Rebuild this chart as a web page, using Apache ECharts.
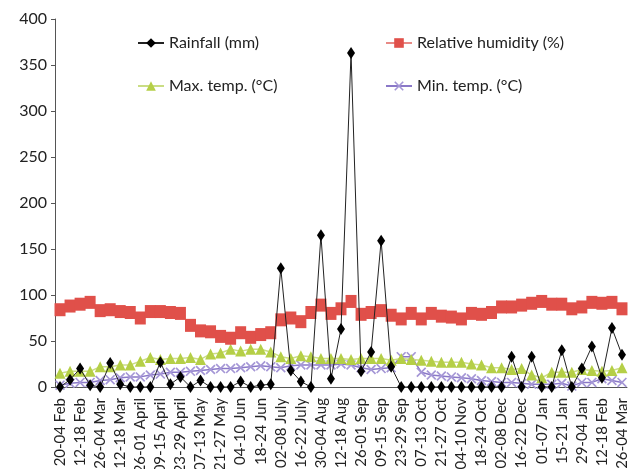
<!DOCTYPE html>
<html><head><meta charset="utf-8">
<script src="https://cdn.jsdelivr.net/npm/echarts@6/dist/echarts.min.js"></script>
<style>html,body{margin:0;padding:0;background:#fff}#c{width:636px;height:469px}</style>
</head><body><div id="c"></div>
<script>
const tickLabels = ['20-04 Feb','12-18 Feb','26-04 Mar','12-18 Mar','26-01 April','09-15 April','23-29 April','07-13 May','21-27 May','04-10 Jun','18-24 Jun','02-08 July','16-22 July','30-04 Aug','12-18 Aug','26-01 Sep','09-15 Sep','23-29 Sep','07-13 Oct','21-27 Oct','04-10 Nov','18-24 Oct','02-08 Dec','16-22 Dec','01-07 Jan','15-21 Jan','29-04 Jan','12-18 Feb','26-04 Mar'];
const rainfall = [0,8,20,2,0,26,3,0,0,0,27,3,11,0,7,0,0,0,6,0,2,3,129,18,6,0,165,9,63,363,17,38,159,22,0,0,0,0,0,0,0,0,0,0,0,33,0,33,0,0,40,0,20,44,10,64,35];
const humidity = [84,88,90,92,83,84,82,81,75,82,82,81,80,67,61,60,55,53,59,54,57,59,73,75,71,81,89,80,85,93,79,81,83,78,74,80,74,80,77,76,74,80,79,81,87,87,89,91,93,90,90,85,87,92,91,92,85];
const maxTemp = [15,17,17,17,22,22,24,24,28,32,30,31,31,32,30,36,37,41,39,41,41,38,33,31,34,33,31,31,31,30,31,31,31,29,31,30,29,28,27,27,27,25,24,21,21,19,20,13,10,16,16,16,19,18,17,18,21];
const minTemp = [2,4,5,5,7,8,10,11,11,13,14,16,16,17,18,19,20,20,21,22,23,22,21,23,24,24,24,24,25,24,21,19,20,21,33,33,16,13,12,11,10,9,7,6,5,5,4,3,3,3,4,1,5,5,9,7,5];

const categories = rainfall.map((_, i) => i % 2 === 0 ? tickLabels[i / 2] : '');
const FONT = 'Lato';
const xMark = 'path://M0,1.2L1.2,0L10,8.8L8.8,10Z M8.8,0L10,1.2L1.2,10L0,8.8Z';
const chart = echarts.init(document.getElementById('c'));
const legendText = {fontFamily: FONT, fontSize: 16, color: '#222'};
function lg(name, left, top) {
  return {data: [name], left: left, top: top, itemWidth: 26, itemHeight: 12, itemGap: 0, textStyle: legendText, padding: 0};
}
chart.setOption({
  animation: false,
  grid: {left: 55, right: 9, top: 19, bottom: 82, containLabel: false, outerBoundsMode: 'none'},
  legend: [lg('Rainfall (mm)', 137, 35), lg('Relative humidity (%)', 385, 35), lg('Max. temp. (°C)', 137, 78), lg('Min. temp. (°C)', 385, 78)],
  xAxis: {
    type: 'category', data: categories, boundaryGap: true,
    axisLine: {lineStyle: {color: '#555', width: 1}},
    axisTick: {interval: 0, length: 5, lineStyle: {color: '#555'}},
    axisLabel: {interval: 0, rotate: 90, margin: 11, fontFamily: FONT, fontSize: 15, color: '#222'}
  },
  yAxis: {
    type: 'value', min: 0, max: 400, interval: 50,
    splitLine: {show: false},
    axisLine: {show: true, lineStyle: {color: '#555', width: 1}},
    axisTick: {show: true, length: 4, lineStyle: {color: '#555'}},
    axisLabel: {fontFamily: FONT, fontSize: 16, color: '#222', margin: 8}
  },
  series: [
    {name: 'Rainfall (mm)', type: 'line', data: rainfall, symbol: 'diamond', symbolSize: [8, 12], z: 5,
      itemStyle: {color: '#000'}, lineStyle: {color: '#222', width: 1}},
    {name: 'Relative humidity (%)', type: 'line', data: humidity, symbol: 'rect', symbolSize: [11, 13], z: 4,
      itemStyle: {color: '#e0504a'}, lineStyle: {color: '#e88a86', width: 1}},
    {name: 'Max. temp. (°C)', type: 'line', data: maxTemp, symbol: 'triangle', symbolSize: [11, 11], z: 3,
      itemStyle: {color: '#b5cf47'}, lineStyle: {color: '#cadd84', width: 1.5}},
    {name: 'Min. temp. (°C)', type: 'line', data: minTemp, symbol: xMark, symbolSize: 10, z: 2,
      itemStyle: {color: '#a597d6'}, lineStyle: {color: '#8a78c8', width: 1.5}}
  ]
});
</script></body></html>
